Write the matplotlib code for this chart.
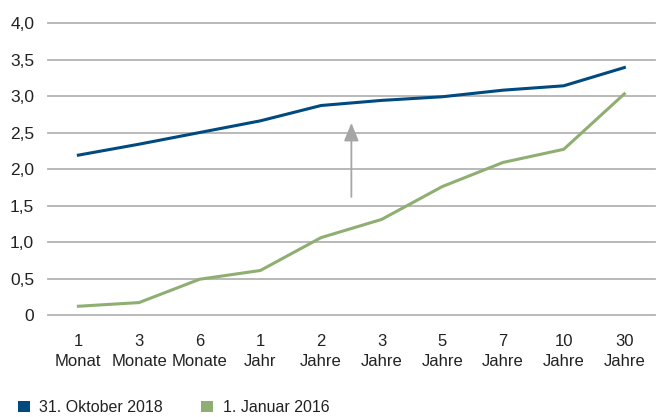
import matplotlib
matplotlib.use("Agg")
import matplotlib.pyplot as plt
from matplotlib.patches import Patch

plt.rcParams['font.family'] = ['Liberation Sans', 'DejaVu Sans']

categories = ['1\nMonat', '3\nMonate', '6\nMonate', '1\nJahr', '2\nJahre',
              '3\nJahre', '5\nJahre', '7\nJahre', '10\nJahre', '30\nJahre']
okt_2018 = [2.19, 2.34, 2.50, 2.66, 2.87, 2.94, 2.99, 3.08, 3.14, 3.39]
jan_2016 = [0.12, 0.17, 0.49, 0.61, 1.06, 1.31, 1.76, 2.09, 2.27, 3.03]
y_ticks = [0, 0.5, 1.0, 1.5, 2.0, 2.5, 3.0, 3.5, 4.0]
y_labels = ['0', '0,5', '1,0', '1,5', '2,0', '2,5', '3,0', '3,5', '4,0']
arrow_x = 4.5
arrow_from = 1.58
arrow_to = 2.67

blue = '#004a7f'
green = '#8fae72'
grey = '#a6a6a6'

fig = plt.figure(figsize=(6.58, 4.17), dpi=100)
ax = fig.add_axes([0.073, 0.2446, 0.922, 0.7002])

# grid lines drawn by hand so the 0 line sits on the axes edge
for y in y_ticks:
    ax.axhline(y, color='#b3b3b3', linewidth=1.3, zorder=0, clip_on=False)

x = range(len(categories))
ax.plot(x, okt_2018, color=blue, linewidth=2.2, zorder=3)
ax.plot(x, jan_2016, color=green, linewidth=2.2, zorder=3)

ax.annotate('', xy=(arrow_x, arrow_to), xytext=(arrow_x, arrow_from),
            arrowprops=dict(arrowstyle='-|>,head_length=1.1,head_width=0.45',
                            color=grey, linewidth=1.3))

ax.set_xlim(-0.5, 9.5)
ax.set_ylim(0, 4)
ax.set_xticks(list(x))
ax.set_xticklabels(categories, fontsize=12, color='#222222', linespacing=1.35)
ax.set_yticks(y_ticks)
ax.set_yticklabels(y_labels, fontsize=12.5, color='#222222')
ax.tick_params(axis='both', length=0)
ax.tick_params(axis='x', pad=14)
ax.tick_params(axis='y', pad=10)
for s in ax.spines.values():
    s.set_visible(False)

handles = [Patch(facecolor=blue), Patch(facecolor=green)]
fig.legend(handles, ['31. Oktober 2018', '1. Januar 2016'], loc='lower left',
           bbox_to_anchor=(0.005, -0.03), ncol=2, frameon=False, fontsize=11.5,
           handlelength=0.75, handleheight=0.75, handletextpad=0.6,
           columnspacing=2.4, labelcolor='#222222')

fig.savefig('out.png', dpi=100)
